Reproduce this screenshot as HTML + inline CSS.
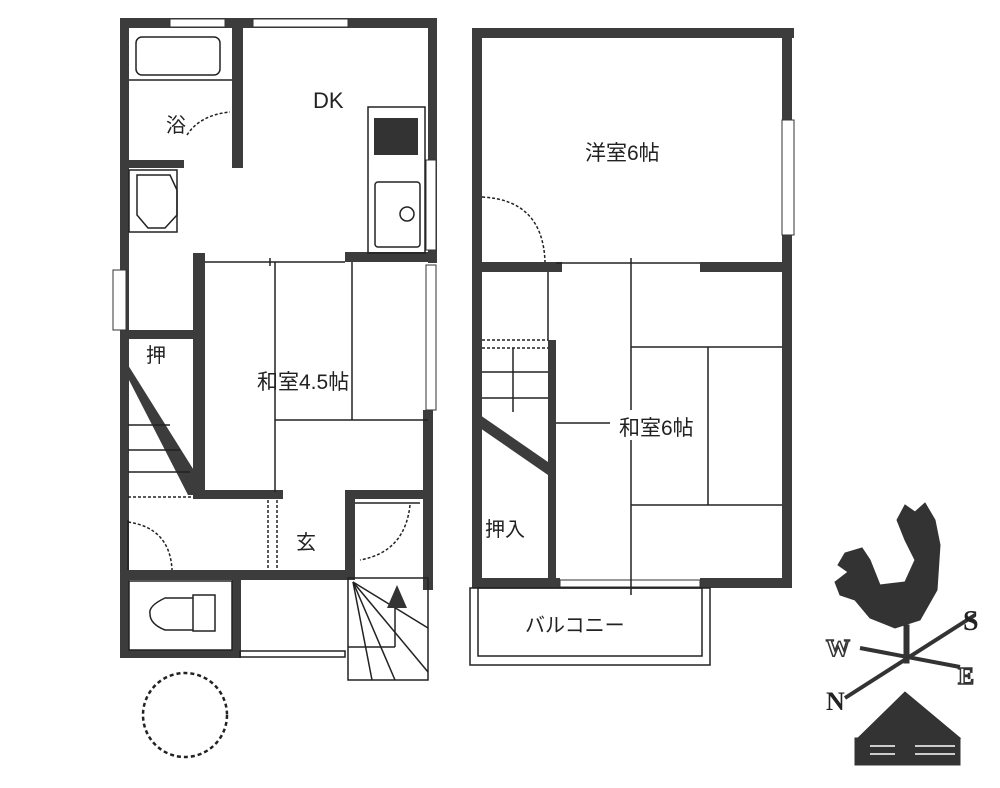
<!DOCTYPE html>
<html><head><meta charset="utf-8"><style>
html,body{margin:0;padding:0;background:#fff;}
svg{display:block;}
text{font-family:"Liberation Sans","Noto Sans CJK JP",sans-serif;fill:#222;}
text.s{font-family:"Liberation Serif",serif;font-weight:bold;}
</style></head><body>
<svg width="1000" height="788" viewBox="0 0 1000 788" xmlns="http://www.w3.org/2000/svg">
<g fill="#3c3c3c">
<rect x="120" y="18" width="317" height="10"/>
<rect x="120" y="18" width="9" height="640"/>
<rect x="428" y="18" width="9" height="245"/>
<rect x="232" y="28" width="11" height="140"/>
<rect x="128" y="160" width="115" height="8"/>
<rect x="345" y="252" width="92" height="10"/>
<rect x="193" y="253" width="12" height="245"/>
<rect x="120" y="330" width="75" height="9"/>
<rect x="423" y="410" width="10" height="180"/>
<rect x="193" y="490" width="90" height="9"/>
<rect x="345" y="490" width="88" height="9"/>
<rect x="345" y="490" width="10" height="90"/>
<rect x="120" y="570" width="235" height="10"/>
<rect x="232" y="575" width="9" height="83"/>
<rect x="120" y="650" width="121" height="8"/>
<polygon points="128,365 128,378 188,495 200,495 200,480"/>
<rect x="472" y="28" width="322" height="10"/>
<rect x="472" y="28" width="10" height="560"/>
<rect x="782" y="28" width="10" height="560"/>
<rect x="472" y="262" width="90" height="10"/>
<rect x="700" y="262" width="92" height="10"/>
<rect x="548" y="340" width="8" height="248"/>
<rect x="472" y="578" width="88" height="10"/>
<rect x="700" y="578" width="92" height="10"/>
<polygon points="480,415 480,428 548,475 548,462"/>
</g>
<g fill="#fff" stroke="#333" stroke-width="1">
<rect x="170" y="19" width="55" height="8"/>
<rect x="253" y="19" width="95" height="8"/>
<rect x="113" y="270" width="13" height="60"/>
<rect x="426" y="160" width="10" height="90"/>
<rect x="426" y="265" width="10" height="145"/>
<rect x="782" y="120" width="12" height="115"/>
<rect x="184" y="160" width="48" height="8" stroke="none"/>
<rect x="560" y="580" width="140" height="7"/>
</g>
<g fill="none" stroke="#222" stroke-width="1.5">
<rect x="136" y="37" width="84" height="38" rx="6"/>
<line x1="129" y1="80" x2="232" y2="80"/>
<path d="M187 135 Q200 115 230 112" stroke-dasharray="3,2"/>
<path d="M137 175 L170 175 L177 190 L177 215 L165 228 L148 228 L137 215 Z"/>
<rect x="129" y="170" width="48" height="62"/>
<rect x="368" y="107" width="57" height="146"/>
<rect x="375" y="182" width="45" height="65" rx="3"/>
<circle cx="407" cy="214" r="7"/>
<line x1="205" y1="262" x2="345" y2="262"/>
<line x1="352" y1="262" x2="352" y2="420"/>
<line x1="275" y1="262" x2="275" y2="492"/>
<line x1="275" y1="420" x2="428" y2="420"/>
<line x1="270" y1="258" x2="270" y2="266"/>
<line x1="128" y1="425" x2="170" y2="425"/>
<line x1="128" y1="450" x2="180" y2="450"/>
<line x1="128" y1="472" x2="190" y2="472"/>
<line x1="128" y1="497" x2="193" y2="497" stroke-dasharray="3,2"/>
<line x1="268" y1="500" x2="268" y2="568" stroke-dasharray="3,2"/>
<line x1="277" y1="500" x2="277" y2="568" stroke-dasharray="3,2"/>
<path d="M128 522 Q170 528 172 570" stroke-dasharray="3,2"/>
<line x1="128" y1="520" x2="128" y2="570"/>
<path d="M410 505 Q405 552 360 560" stroke-dasharray="3,2"/>
<line x1="355" y1="503" x2="420" y2="503"/>
<rect x="129" y="581" width="103" height="69"/>
<rect x="193" y="595" width="22" height="36"/>
<path d="M193 598 L165 598 Q148 606 150 614 Q150 624 165 630 L193 630"/>
<rect x="240" y="651" width="105" height="6"/>
<rect x="348" y="578" width="80" height="102"/>
<line x1="353" y1="582" x2="428" y2="628"/>
<line x1="353" y1="582" x2="428" y2="672"/>
<line x1="353" y1="582" x2="395" y2="680"/>
<line x1="353" y1="582" x2="372" y2="680"/>
<line x1="395" y1="605" x2="395" y2="647"/>
<line x1="348" y1="647" x2="395" y2="647"/>
<circle cx="185" cy="715" r="42" stroke-dasharray="4,3" stroke-width="2.5"/>
<path d="M482 197 Q543 200 545 262" stroke-dasharray="3,2"/>
<line x1="556" y1="263" x2="700" y2="263"/>
<line x1="631" y1="258" x2="631" y2="410"/>
<line x1="631" y1="440" x2="631" y2="595"/>
<line x1="631" y1="347" x2="782" y2="347"/>
<line x1="631" y1="505" x2="782" y2="505"/>
<line x1="708" y1="347" x2="708" y2="505"/>
<line x1="556" y1="423" x2="610" y2="423"/>
<line x1="548" y1="272" x2="548" y2="340"/>
<line x1="482" y1="340" x2="548" y2="340" stroke-dasharray="3,2"/>
<line x1="482" y1="348" x2="548" y2="348" stroke-dasharray="3,2"/>
<line x1="482" y1="372" x2="548" y2="372"/>
<line x1="482" y1="398" x2="548" y2="398"/>
<line x1="513" y1="348" x2="513" y2="412"/>
<rect x="470" y="588" width="240" height="77"/>
<rect x="478" y="588" width="224" height="68"/>
</g>
<rect x="374" y="118" width="44" height="37" fill="#333"/>
<polygon points="397,585 387,608 407,608" fill="#333"/>
<text x="313" y="108" font-size="22">DK</text>
<text x="166" y="132" font-size="20">浴</text>
<text x="146" y="362" font-size="20">押</text>
<text x="257" y="389" font-size="21">和室4.5帖</text>
<text x="296" y="549" font-size="20">玄</text>
<text x="585" y="160" font-size="21">洋室6帖</text>
<text x="619" y="435" font-size="21">和室6帖</text>
<text x="485" y="536" font-size="20">押入</text>
<text x="525" y="632" font-size="20">バルコニー</text>
<g fill="#333" stroke="#333">
<path d="M897 520 L905 505 L915 512 L925 503 L935 520 L940 545 L937 590 L920 620 L895 628 L870 618 L855 600 L840 595 L835 582 L848 572 L838 565 L845 553 L862 548 L870 560 L880 585 L905 582 L915 560 L905 540 Z"/>
<rect x="904" y="625" width="5" height="38"/>
<line x1="860" y1="648" x2="960" y2="667" stroke-width="4"/>
<line x1="845" y1="698" x2="975" y2="615" stroke-width="4"/>
<polygon points="905,692 858,738 960,738"/>
<rect x="855" y="738" width="105" height="27"/>
</g>
<g stroke="#fff" stroke-width="1.5">
<line x1="870" y1="746" x2="895" y2="746"/><line x1="870" y1="754" x2="895" y2="754"/>
<line x1="915" y1="746" x2="955" y2="746"/><line x1="915" y1="754" x2="955" y2="754"/>
</g>
<text class="s" x="826" y="656" font-size="24" style="fill:#fff;stroke:#333;stroke-width:1.5">W</text>
<text class="s" x="958" y="684" font-size="24" style="fill:#fff;stroke:#333;stroke-width:1.5">E</text>
<text class="s" x="826" y="710" font-size="26">N</text>
<text class="s" x="963" y="630" font-size="28">S</text>
</svg>
</body></html>
